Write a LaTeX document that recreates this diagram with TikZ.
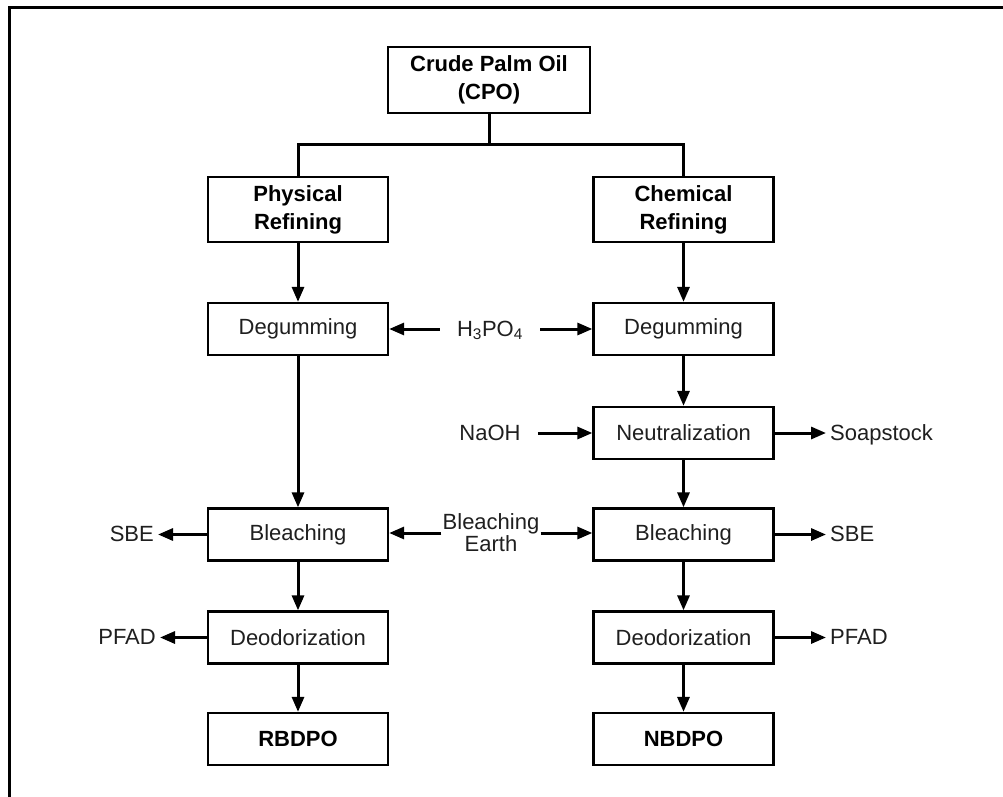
\documentclass[tikz,border=0pt]{standalone}
\usepackage{fontspec}
\setmainfont{Liberation Sans}
\usetikzlibrary{arrows.meta}
\begin{document}
\begin{tikzpicture}[x=1pt,y=-1pt,
  box/.style={draw, line width=2.3pt, minimum width=180pt, minimum height=52pt, inner sep=0pt,
    font=\fontsize{22}{23}\selectfont, align=center, text=black!88},
  bbox/.style={box, font=\fontsize{22}{28}\selectfont\bfseries, minimum height=65pt, text=black},
  lbl/.style={inner ysep=2pt, inner xsep=4pt, font=\fontsize{22}{23}\selectfont, align=center, text=black!88},
  one/.style={text height=16pt, text depth=1.5pt},
  arr/.style={line width=3pt, -{Triangle[length=15pt,width=12pt]}},
  ln/.style={line width=3pt}]
\useasboundingbox (0,0) rectangle (1003,797);
\fill[white] (0,0) rectangle (1003,797);
% outer frame
\draw[line width=3pt] (9,797) -- (9,8) -- (1003,8);

% main boxes
\node[bbox, minimum width=202pt, minimum height=66pt] (cpo) at (489,80) {Crude Palm Oil\\(CPO)};
\node[bbox] (phys) at (298,209.5) {Physical\\Refining};
\node[bbox] (chem) at (683.5,209.5) {Chemical\\Refining};
\node[box] (deg1) at (298,329) {Degumming};
\node[box] (deg2) at (683.5,329) {Degumming};
\node[box] (neut) at (683.5,433) {Neutralization};
\node[box] (ble1) at (298,534.5) {Bleaching};
\node[box] (ble2) at (683.5,534.5) {Bleaching};
\node[box] (deo1) at (298,637.5) {Deodorization};
\node[box] (deo2) at (683.5,637.5) {Deodorization};
\node[bbox, minimum height=52pt] (rb) at (298,739) {RBDPO};
\node[bbox, minimum height=52pt] (nb) at (683.5,739) {NBDPO};

% side labels
\node[lbl, one, inner xsep=17pt] (h3po4) at (490,329) {H\textsubscript{3}PO\textsubscript{4}};
\node[lbl, one, inner xsep=17pt] (naoh) at (490,433) {NaOH};
\node[lbl, inner xsep=1pt, font=\fontsize{22}{22}\selectfont] (be) at (491,533) {Bleaching\\Earth};
\node[lbl, one, anchor=west] (soap) at (826,433) {Soapstock};
\node[lbl, one, anchor=east] (sbe1) at (158,534.5) {SBE};
\node[lbl, one, anchor=west] (sbe2) at (826,534.5) {SBE};
\node[lbl, one, anchor=east] (pfad1) at (160,637.5) {PFAD};
\node[lbl, one, anchor=west] (pfad2) at (826,637.5) {PFAD};

% branch
\coordinate (j) at (489,144);
\draw[ln] (cpo.south) -- (j);
\draw[ln] (phys.north) |- (j) -| (chem.north);

% vertical flow
\draw[arr] (phys.south) -- (deg1.north);
\draw[arr] (deg1.south) -- (ble1.north);
\draw[arr] (ble1.south) -- (deo1.north);
\draw[arr] (deo1.south) -- (rb.north);
\draw[arr] (chem.south) -- (deg2.north);
\draw[arr] (deg2.south) -- (neut.north);
\draw[arr] (neut.south) -- (ble2.north);
\draw[arr] (ble2.south) -- (deo2.north);
\draw[arr] (deo2.south) -- (nb.north);

% side arrows
\draw[arr] (h3po4.west) -- (deg1.east);
\draw[arr] (h3po4.east) -- (deg2.west);
\draw[arr] (naoh.east) -- (neut.west);
\draw[arr] (neut.east) -- (soap.west);
\draw[arr] (be.west) -- (be.west -| ble1.east);
\draw[arr] (be.east) -- (be.east -| ble2.west);
\draw[arr] (ble1.west) -- (sbe1.east);
\draw[arr] (ble2.east) -- (sbe2.west);
\draw[arr] (deo1.west) -- (pfad1.east);
\draw[arr] (deo2.east) -- (pfad2.west);
\end{tikzpicture}
\end{document}
